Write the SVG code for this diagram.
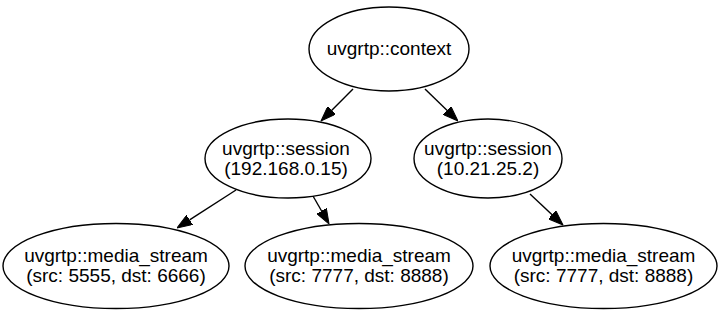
<svg xmlns="http://www.w3.org/2000/svg" width="722" height="322" viewBox="0 0 722 322">
  <style>
    .node ellipse { fill: #ffffff; stroke: #000000; stroke-width: 1.4; }
    .node text { font-family: "Liberation Sans", Arial, Helvetica, sans-serif; font-size: 19px; fill: #000000; text-anchor: middle; }
    .edge { fill: none; stroke: #000000; stroke-width: 1.4; marker-end: url(#arrow); }
  </style>
  <defs>
    <marker id="arrow" viewBox="0 0 15 11" refX="0" refY="5.5" markerWidth="15" markerHeight="11" markerUnits="userSpaceOnUse" orient="auto">
      <path d="M0,0 L15,5.5 L0,11 z" fill="#000000" stroke="#000000" stroke-width="1"/>
    </marker>
  </defs>
  <rect width="722" height="322" fill="#ffffff"/>

  <!-- connectors: each path stops at the arrowhead's base -->
  <g id="edges">
    <path class="edge" d="M353,89 L331.6,110.4"/>
    <path class="edge" d="M425,89 L447.2,110.6"/>
    <path class="edge" d="M236,190 L189.6,219.9"/>
    <path class="edge" d="M313,196 L321.6,211.0"/>
    <path class="edge" d="M530,194 L552.1,214.8"/>
  </g>

  <g id="context" class="node">
    <ellipse cx="389" cy="49" rx="80" ry="42"/>
    <text x="389" y="55">uvgrtp::context</text>
  </g>

  <g id="session_a" class="node">
    <ellipse cx="288" cy="158.5" rx="83" ry="39.5"/>
    <text x="286" y="155">uvgrtp::session</text>
    <text x="286" y="175">(192.168.0.15)</text>
  </g>

  <g id="session_b" class="node">
    <ellipse cx="488" cy="158.5" rx="74" ry="39.5"/>
    <text x="488" y="155">uvgrtp::session</text>
    <text x="488" y="175">(10.21.25.2)</text>
  </g>

  <g id="stream_a" class="node">
    <ellipse cx="116" cy="266" rx="113" ry="42.5"/>
    <text x="116" y="262">uvgrtp::media_stream</text>
    <text x="116" y="282">(src: 5555, dst: 6666)</text>
  </g>

  <g id="stream_b" class="node">
    <ellipse cx="359" cy="266" rx="114" ry="42.5"/>
    <text x="359" y="262">uvgrtp::media_stream</text>
    <text x="359" y="282">(src: 7777, dst: 8888)</text>
  </g>

  <g id="stream_c" class="node">
    <ellipse cx="603.5" cy="266" rx="113.5" ry="42.5"/>
    <text x="603.5" y="262">uvgrtp::media_stream</text>
    <text x="603.5" y="282">(src: 7777, dst: 8888)</text>
  </g>
</svg>
